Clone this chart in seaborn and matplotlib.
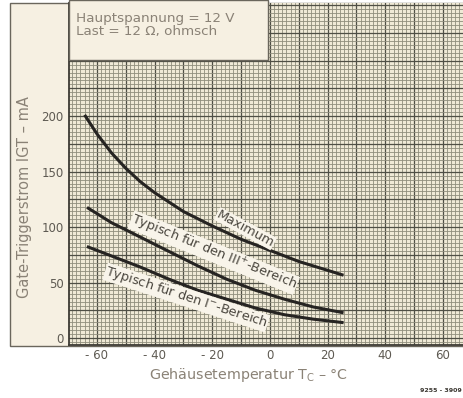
import numpy as np
import pandas as pd
import matplotlib
matplotlib.use("Agg")
import matplotlib.pyplot as plt
from matplotlib.patches import Rectangle
import seaborn as sns

# ---- data ----
max_t = [-64, -60, -55, -50, -45, -40, -30, -20, -10, 0, 10, 20, 25]
max_i = [200, 184, 167, 153, 141, 131, 114, 101, 89, 79, 69, 61, 57]

iii_t = [-63, -55, -45, -35, -25, -15, -5, 5, 15, 25]
iii_i = [117, 104, 91, 78, 65, 53, 43, 35, 28, 23]

i_t = [-63, -55, -45, -35, -25, -15, -5, 5, 15, 25]
i_i = [82, 74, 64, 53, 43, 35, 27, 21, 17, 14]

series_names = ["Maximum", "Typisch für den III$^{+}$-Bereich", "Typisch für den I$^{-}$-Bereich"]
x_ticks = [-60, -40, -20, 0, 20, 40, 60]
x_ticklabels = ["- 60", "- 40", "- 20", "0", "20", "40", "60"]
y_ticks = [0, 50, 100, 150, 200]
y_ticklabels = ["0", "50", "100", "150", "200"]

df = pd.concat([
    pd.DataFrame({"T": max_t, "I": max_i, "s": "max"}),
    pd.DataFrame({"T": iii_t, "I": iii_i, "s": "iii"}),
    pd.DataFrame({"T": i_t, "I": i_i, "s": "i"}),
])

W, H = 464, 398
fig = plt.figure(figsize=(W / 100, H / 100), dpi=100, facecolor="white")

txt = "#8a8276"
dark = "#5e5a52"
cream = "#f6f0e2"

# outer frame / left label panel
frame = Rectangle((10 / W, 1 - 346 / H), (W - 10) / W, (346 - 3) / H,
                  transform=fig.transFigure, facecolor=cream,
                  edgecolor="#6a665c", linewidth=1.0, zorder=-10)
fig.patches.append(frame)

ax = fig.add_axes([69 / W, 1 - 345 / H, (W - 69) / W, (345 - 3) / H])
ax.set_zorder(1)
ax.set_facecolor("#efe9d6")

sns.lineplot(data=df, x="T", y="I", hue="s", palette=["#262422"] * 3,
             linewidth=2.2, legend=False, ax=ax, zorder=3, sort=False)

# graph-paper grid
xmaj = np.arange(-70, 68, 10)
ymaj = np.arange(0, 301, 25)
ax.set_xticks(np.arange(-70, 68, 10 / 7), minor=True)
ax.set_yticks(np.arange(-25, 301, 25 / 7), minor=True)
ax.set_xticks(xmaj)
ax.set_yticks(ymaj)
ax.grid(which="minor", color="#8f8d7c", linewidth=0.6, zorder=0)
ax.grid(which="major", color="#4f4f45", linewidth=0.9, zorder=0)
ax.set_axisbelow(True)

ax.set_xticklabels(["" if t not in x_ticks else x_ticklabels[x_ticks.index(t)] for t in xmaj])
ax.set_yticklabels(["" if t not in y_ticks else y_ticklabels[y_ticks.index(t)] for t in ymaj])
ax.tick_params(axis="both", which="both", length=0, labelsize=8.5, labelcolor=dark)
ax.tick_params(axis="x", pad=3)
ax.tick_params(axis="y", pad=4)
ax.set_xlabel("")
ax.set_ylabel("")
ax.set_xlim(-69.7, 67.3)
ax.set_ylim(-6.3, 302)
for side in ["left", "bottom"]:
    ax.spines[side].set_color("#3c3a34")
    ax.spines[side].set_linewidth(1.3)
for side in ["top", "right"]:
    ax.spines[side].set_visible(False)

# info box top-left
ax.add_patch(Rectangle((0, (345 - 60) / 342), (268 - 69) / 395, 60 / 342,
                       transform=ax.transAxes, facecolor=cream,
                       edgecolor="#6a665c", linewidth=1.0, zorder=4, clip_on=False))
ax.text(7 / 395, 1 - 9 / 342, "Hauptspannung = 12 V\nLast = 12 \u03a9, ohmsch",
        transform=ax.transAxes, ha="left", va="top", fontsize=9.7, color=txt,
        linespacing=0.95, zorder=5)

# curve labels
lab_kw = dict(fontsize=9.3, color="#4a463e", ha="center", va="center", zorder=5,
              bbox=dict(facecolor="#f8f4ea", edgecolor="none", pad=0.4))
ax.text(-8.5, 98.5, series_names[0], rotation=-28.5, **lab_kw)
ax.text(-19.5, 77, series_names[1], rotation=-22, **lab_kw)
ax.text(-29, 36.5, series_names[2], rotation=-18, **lab_kw)

# axis titles
fig.text(25 / W, 1 - 197 / H, "Gate-Triggerstrom IGT \u2013 mA", rotation=90,
         ha="center", va="center", fontsize=10.5, color=txt)
fig.text(249 / W, 1 - 375 / H, "Gehäusetemperatur T$_\\mathrm{C}$ \u2013 \u00b0C",
         ha="center", va="center", fontsize=10.3, color=txt)
fig.text(462 / W, 1 - 391 / H, "9255 - 3909", ha="right", va="center",
         fontsize=4.5, color="#3a3630", fontweight="bold")

fig.savefig("out.png", dpi=100, facecolor="white")
